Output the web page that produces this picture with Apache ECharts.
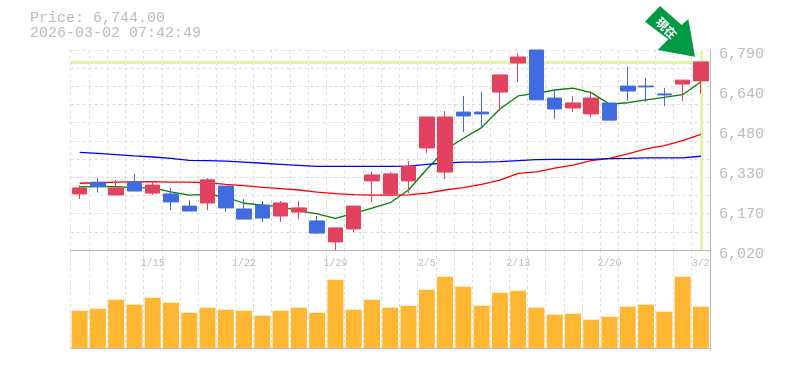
<!DOCTYPE html>
<html>
<head>
<meta charset="utf-8">
<style>
html, body { margin: 0; padding: 0; background: #fff; }
#chart { width: 785px; height: 370px; }
</style>
<script src="https://cdn.jsdelivr.net/npm/echarts@6/dist/echarts.min.js"></script>
</head>
<body>
<div id="chart"></div>
<script>
var dates = ['1/8','1/9','1/13','1/14','1/15','1/16','1/19','1/20','1/21','1/22',
	'1/23','1/26','1/27','1/28','1/29','1/30','2/2','2/3','2/4','2/5',
	'2/6','2/9','2/10','2/12','2/13','2/16','2/17','2/18','2/19','2/20',
	'2/24','2/25','2/26','2/27','3/2'];
var opens = [6236,6281,6232,6282,6239,6236,6189,6201,6266,6178,
	6193,6151,6166,6132,6051,6101,6286,6236,6286,6413,
	6320,6551,6551,6628,6740,6790,6605,6567,6544,6586,
	6651,6651,6621,6659,6671];
var closes = [6259,6264,6259,6247,6270,6205,6170,6290,6182,6139,
	6143,6201,6182,6085,6105,6189,6309,6313,6343,6532,
	6532,6536,6544,6694,6763,6598,6563,6586,6605,6520,
	6632,6648,6617,6674,6744];
var lows = [6216,6241,6232,6247,6232,6174,6170,6174,6166,6139,
	6128,6128,6139,6082,6020,6089,6205,6232,6239,6393,
	6293,6474,6490,6555,6667,6598,6524,6551,6532,6520,
	6594,6590,6574,6594,6621];
var highs = [6270,6297,6290,6313,6286,6259,6212,6297,6266,6216,
	6209,6209,6209,6151,6105,6189,6320,6320,6363,6532,
	6555,6613,6628,6694,6778,6790,6636,6613,6632,6586,
	6725,6682,6644,6674,6744];
var maShort = [6263,6264,6264,6260,6259,6244,6231,6234,6224,6200,
	6193,6187,6171,6159,6142,6161,6181,6202,6251,6331,
	6405,6450,6491,6563,6613,6623,6636,6643,6626,6582,
	6587,6598,6608,6618,6668];
var maMiddle = [6277,6279,6281,6282,6283,6281,6281,6279,6273,6268,
	6261,6256,6251,6243,6237,6233,6231,6231,6232,6239,
	6251,6260,6273,6289,6315,6321,6335,6347,6364,6373,
	6390,6409,6422,6441,6465];
var maLong = [6396,6392,6387,6382,6378,6373,6365,6364,6362,6358,
	6354,6350,6346,6342,6342,6342,6342,6342,6343,6350,
	6355,6358,6358,6360,6364,6368,6369,6369,6369,6372,
	6373,6375,6375,6375,6381];
var volumes = [37.3,39.3,48.3,43.3,50.3,45.3,35.3,40.3,38.3,37.3,
	32.3,37.3,40.3,35.3,68.3,38.3,48.3,40.3,42.3,58.3,
	71.3,61.3,42.3,55.3,57.3,40.3,33.3,34.3,28.3,31.3,
	41.3,43.3,36.3,71.3,41.3];
var yTickLabels = ['6,020','6,170','6,330','6,480','6,640','6,790'];
var lastPrice = 6744;
var priceText = 'Price: 6,744.00';
var timeText = '2026-03-02 07:42:49';

var MONO = '"Liberation Mono", monospace';
var GRAY = '#bbbbbb';
var GRID_LINE = { show : true, interval : 0, lineStyle : { color : '#dddddd', width : 1, type : [3, 3] } };
var FRAME = { show : true, lineStyle : { color : GRAY, width : 1 } };

var candleData = dates.map(function(d, i) {
	return [opens[i], closes[i], lows[i], highs[i]];
});

function maSeries(values, color) {
	return {
		type : 'line',
		data : values,
		symbol : 'none',
		z : 2,
		silent : true,
		lineStyle : { color : color, width : 1.3 }
	};
}

var option = {
	animation : false,
	backgroundColor : '#ffffff',
	title : {
		left : 30,
		top : 11,
		padding : 0,
		text : priceText + '\n' + timeText,
		textStyle : {
			fontFamily : MONO,
			fontSize : 15,
			fontWeight : 'normal',
			color : GRAY,
			lineHeight : 15
		}
	},
	grid : [
		{ left : 70.5, width : 639.5, top : 50, height : 200 },
		{ left : 70.5, width : 639.5, top : 250, height : 100 }
	],
	xAxis : [ {
		type : 'category',
		gridIndex : 0,
		data : dates,
		axisLine : FRAME,
		axisTick : { show : false },
		splitLine : GRID_LINE,
		axisLabel : {
			fontFamily : MONO,
			fontSize : 10,
			color : GRAY,
			margin : 8,
			interval : function(i) { return i % 5 === 4; }
		}
	}, {
		type : 'category',
		gridIndex : 1,
		data : dates,
		axisLine : FRAME,
		axisTick : { show : false },
		splitLine : GRID_LINE,
		axisLabel : { show : false }
	} ],
	yAxis : [ {
		type : 'value',
		gridIndex : 0,
		position : 'right',
		min : 6020,
		max : 6790,
		interval : 70,
		axisLine : { show : false },
		axisTick : { show : false },
		axisLabel : { show : false },
		splitLine : { show : true, lineStyle : GRID_LINE.lineStyle }
	}, {
		type : 'value',
		gridIndex : 0,
		position : 'right',
		min : 0,
		max : yTickLabels.length - 1,
		interval : 1,
		axisLine : FRAME,
		axisTick : { show : false },
		splitLine : { show : false },
		axisLabel : {
			fontFamily : MONO,
			fontSize : 15,
			color : GRAY,
			margin : 9,
			verticalAlign : 'top',
			padding : [-3, 0, 0, 0],
			formatter : function(v) { return yTickLabels[v]; }
		}
	}, {
		type : 'value',
		gridIndex : 1,
		position : 'right',
		min : -2,
		max : 98,
		axisLine : FRAME,
		axisTick : { show : false },
		axisLabel : { show : false },
		splitLine : { show : false }
	} ],
	series : [
		maSeries(maShort, '#008000'),
		maSeries(maMiddle, '#ff0000'),
		maSeries(maLong, '#0000ff'),
		{
			type : 'candlestick',
			data : candleData,
			barWidth : 15,
			z : 3,
			itemStyle : {
				color : '#e2425f',
				color0 : '#416ce0',
				borderColor : '#e2425f',
				borderColor0 : '#416ce0',
				borderWidth : 1
			},
			markLine : {
				silent : true,
				z : 1,
				symbol : 'none',
				label : { show : false },
				lineStyle : { color : '#e4f5a9', width : 3, type : 'solid' },
				data : [ { yAxis : lastPrice }, { xAxis : dates[dates.length - 1] } ]
			}
		},
		{
			type : 'bar',
			xAxisIndex : 1,
			yAxisIndex : 2,
			data : volumes,
			barWidth : 16,
			itemStyle : { color : '#ffb733' }
		}
	],
	graphic : [ {
		type : 'polygon',
		z : 10,
		shape : {
			points : [ [645, 21.7], [660, 6], [681.7, 25], [688.3, 19], [695, 56.7], [657.7, 50], [668.3, 39.3] ]
		},
		style : { fill : '#009944' }
	}, {
		type : 'text',
		z : 11,
		x : 666.5,
		y : 28,
		rotation : -Math.PI / 4,
		style : {
			text : '現在',
			fill : '#ffffff',
			font : 'bold 12px "Noto Sans CJK JP"',
			align : 'center',
			verticalAlign : 'middle'
		}
	} ]
};

echarts.init(document.getElementById('chart')).setOption(option);
</script>
</body>
</html>
